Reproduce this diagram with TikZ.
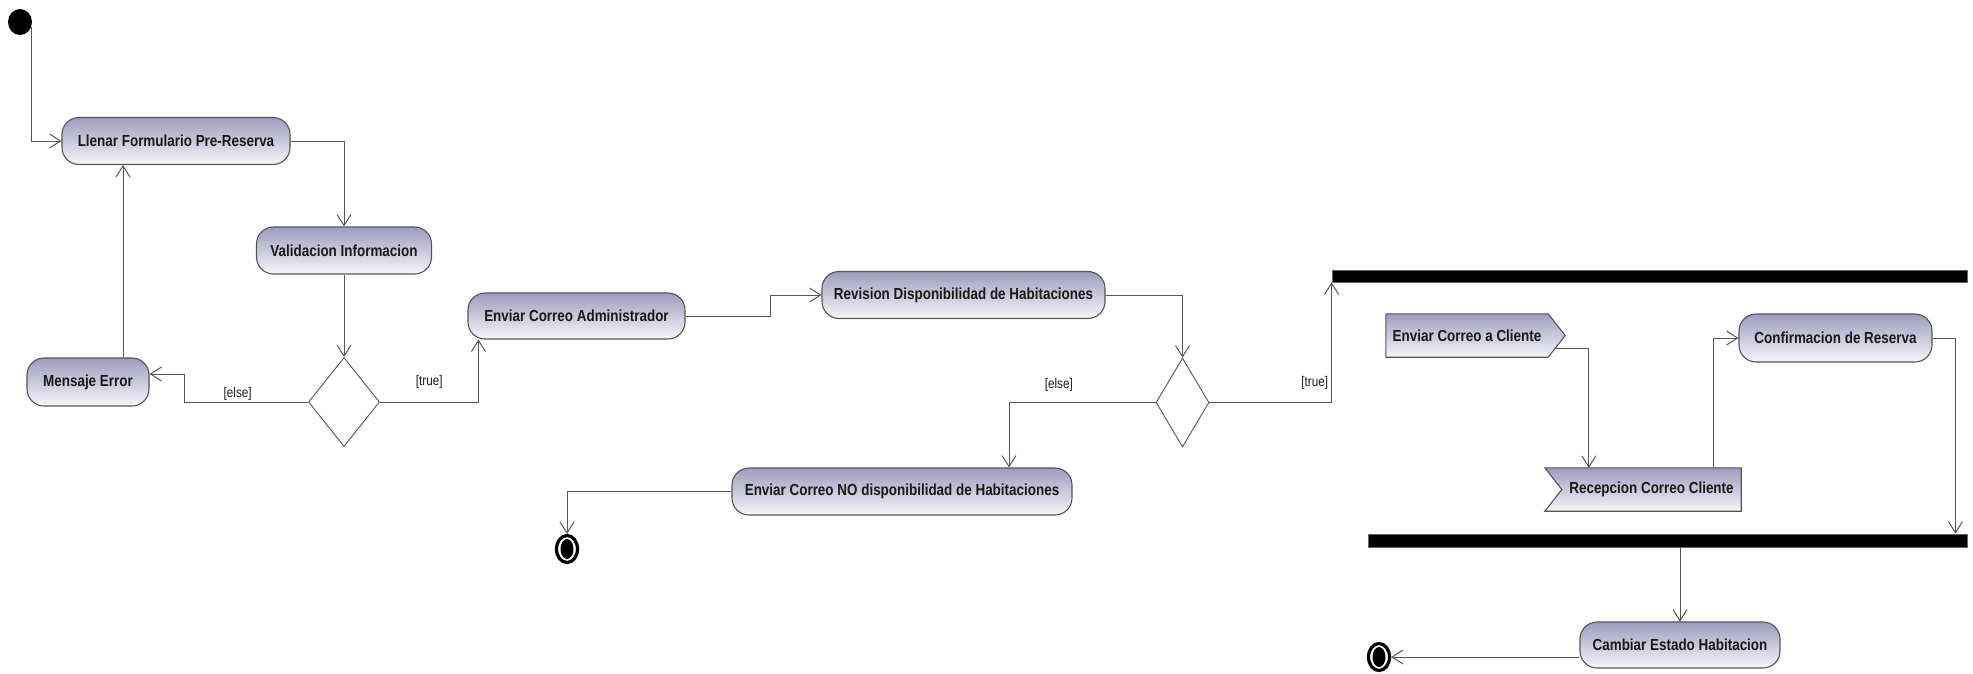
\documentclass[tikz,border=0pt]{standalone}
\usepackage{fontspec}
\setmainfont[FakeStretch=0.84]{Liberation Sans}
\usetikzlibrary{shapes.geometric,arrows.meta,calc,backgrounds}

\definecolor{edge}{RGB}{85,85,85}
\definecolor{lav}{RGB}{158,156,190}
\definecolor{lavlow}{RGB}{246,246,250}

\begin{document}
\begin{tikzpicture}[x=1pt,y=-1pt,
  activity/.style={draw=edge, line width=1.1pt, rounded corners=17pt,
    top color=lav, bottom color=lavlow, inner sep=0pt,
    font=\fontsize{16}{18}\selectfont\bfseries, text=black!90},
  sigtext/.style={inner sep=0pt, font=\fontsize{16}{18}\selectfont\bfseries, text=black!90},
  sigshape/.style={draw=edge, line width=1.1pt, top color=lav, bottom color=lavlow},
  decision/.style={diamond, draw=edge, line width=0.9pt, fill=white, inner sep=0pt},
  initst/.style={ellipse, fill=black, minimum width=24pt, minimum height=26pt, inner sep=0pt},
  finalst/.style={ellipse, draw=black, line width=3.2pt, fill=white, inner sep=0pt,
    minimum width=21pt, minimum height=27pt,
    path picture={\fill[black] (path picture bounding box.center) ellipse (6.5pt and 10pt);}},
  syncbar/.style={rectangle, fill=black, draw=black!60, line width=0.8pt, inner sep=0pt},
  flow/.style={draw=edge, line width=1pt, -{Straight Barb[length=11pt,width=14pt]}},
  guard/.style={font=\fontsize{14}{16}\selectfont, text=black!90, inner sep=1pt}
]
\useasboundingbox (0,0) rectangle (1973,673);

% nodes
\node[initst] (init) at (20,22) {};
\node[activity, minimum width=228pt, minimum height=47pt] (llenar) at (176,141) {Llenar Formulario Pre-Reserva};
\node[activity, minimum width=175pt, minimum height=47pt] (valid) at (344,250.5) {Validacion Informacion};
\node[activity, minimum width=122pt, minimum height=48pt] (error) at (88,382) {Mensaje Error};
\node[decision, minimum width=71pt, minimum height=89pt] (dec1) at (344,402) {};
\node[activity, minimum width=217pt, minimum height=46pt] (admin) at (576.5,316) {Enviar Correo Administrador};
\node[activity, minimum width=283pt, minimum height=47pt] (revision) at (963.5,295) {Revision Disponibilidad de Habitaciones};
\node[decision, minimum width=53pt, minimum height=89pt] (dec2) at (1182.5,402.5) {};
\node[activity, minimum width=340pt, minimum height=47pt] (noDisp) at (902,491.5) {Enviar Correo NO disponibilidad de Habitaciones};
\node[finalst] (fin1) at (567,549) {};
\node[syncbar, minimum width=635pt, minimum height=12pt] (fork) at (1649.5,276) {};
\node[sigtext, minimum width=162pt, minimum height=43pt] (send) at (1467,335.5) {Enviar Correo a Cliente};
\node[sigtext, minimum width=179pt, minimum height=43pt] (accept) at (1651.5,489.5) {Recepcion Correo Cliente};
\node[activity, minimum width=193pt, minimum height=48pt] (confirm) at (1835.5,338) {Confirmacion de Reserva};
\node[syncbar, minimum width=599pt, minimum height=13pt] (join) at (1667.5,540.5) {};
\node[activity, minimum width=200pt, minimum height=46pt] (cambiar) at (1680,645) {Cambiar Estado Habitacion};
\node[finalst] (fin2) at (1379,657) {};

% send and accept signal outlines behind their labels
\begin{scope}[on background layer]
  \path[sigshape] (send.north west) -- (send.north east) -- ($(send.east)+(17,0)$)
    -- (send.south east) -- (send.south west) -- cycle;
  \path[sigshape] ($(accept.north west)+(-17,0)$) -- (accept.north east) -- (accept.south east)
    -- ($(accept.south west)+(-17,0)$) -- (accept.west) -- cycle;
\end{scope}

% control flows
\coordinate (errtop) at ($(error.north)+(35,0)$);
\draw[flow] (init.-25) |- (llenar.west);
\draw[flow] (llenar.east) -| (valid.north);
\draw[flow] (valid.south) -- (dec1.north);
\draw[flow] (dec1.west) -- node[guard, pos=0.57, anchor=south]{[else]} ($(error.east)+(35,20)$) |- ($(error.east)+(0,-8)$);
\draw[flow] (errtop) -- (errtop |- llenar.south);
\draw[flow] (dec1.east) -| node[guard, pos=0.25, anchor=south, yshift=12pt]{[true]} ($(admin.south west)+(11,0)$);
\draw[flow] (admin.east) -- ++(85,0) |- (revision.west);
\draw[flow] (revision.east) -| (dec2.north);
\draw[flow] (dec2.west) -| node[guard, pos=0.33, anchor=south, yshift=10pt]{[else]} ($(noDisp.north)+(107,0)$);
\draw[flow] (noDisp.west) -| (fin1.north);
\draw[flow] (dec2.east) -| node[guard, pos=0.5, anchor=south east, xshift=-2pt, yshift=12pt]{[true]} (fork.south west);
\draw[flow] ($(send.south east)+(7,-9)$) -| ($(accept.north west)+(27,0)$);
\draw[flow] ($(accept.north east)+(-28,0)$) |- (confirm.west);
\draw[flow] (confirm.east) -| ($(join.north east)+(-12,0)$);
\draw[flow] (cambiar.north |- join.south) -- (cambiar.north);
\draw[flow] (fin2 -| cambiar.west) -- (fin2);
\end{tikzpicture}
\end{document}
